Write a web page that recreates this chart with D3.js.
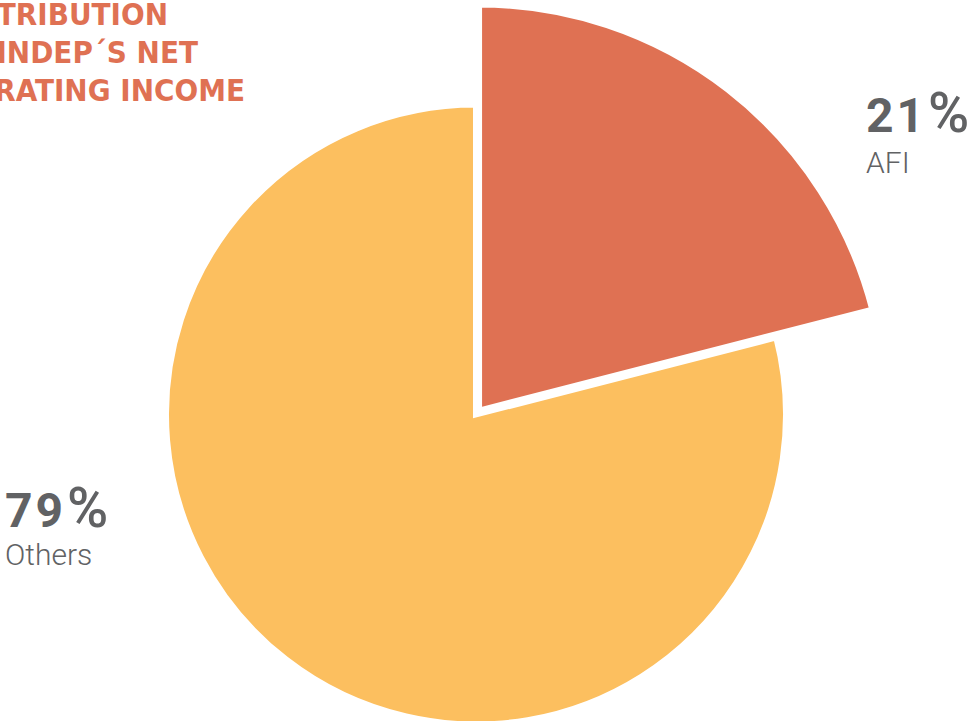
<!DOCTYPE html>
<html>
<head>
<meta charset="utf-8">
<script src="https://cdn.jsdelivr.net/npm/d3@7"></script>
<style>
  html, body { margin: 0; padding: 0; background: #fff; overflow: hidden; }
  svg { display: block; }
</style>
</head>
<body>
<svg id="chart" width="979" height="721"></svg>
<script>
// Distribution of INDEP's net operating income
const categories = ["AFI", "Others"];
const shares = [21, 79];
const titleLines = ["DISTRIBUTION", "OF INDEP´S NET", "OPERATING INCOME"];

const colors = { AFI: "#df7153", Others: "#fcbf5f" };

const svg = d3.select("#chart");
const cx = 476, cy = 414.5;

const data = categories.map((c, i) => ({ name: c, value: shares[i] }));
const pie = d3.pie().sort(null).value(d => d.value);
const arcs = pie(data);

const arcOthers = d3.arc().innerRadius(0).outerRadius(310);
const arcAFI = d3.arc().innerRadius(0).outerRadius(406);

const g = svg.append("g").attr("transform", `translate(${cx},${cy})`);

// Others slice first, then the pulled-out AFI slice on top
const order = [arcs[1], arcs[0]];
g.selectAll("path.slice")
  .data(order)
  .join("path")
  .attr("class", "slice")
  .attr("d", d => d.data.name === "AFI" ? arcAFI(d) : arcOthers(d))
  .attr("transform", d => {
    if (d.data.name !== "AFI") return null;
    const mid = (d.startAngle + d.endAngle) / 2;
    const off = 5;
    return `translate(${off * Math.sin(mid)},${-off * Math.cos(mid)})`;
  })
  .attr("fill", d => colors[d.data.name])
  .attr("stroke", "#fff")
  .attr("stroke-width", 6)
  .attr("stroke-linejoin", "miter");

// Title block, right-aligned per line and running off the left edge
const titleEnds = [168, 198, 245];
svg.append("g")
  .selectAll("text")
  .data(titleLines)
  .join("text")
  .attr("x", (d, i) => titleEnds[i])
  .attr("y", (d, i) => 25 + i * 38)
  .attr("text-anchor", "end")
  .attr("fill", "#df7153")
  .attr("font-family", "'DejaVu Sans Condensed', 'DejaVu Sans', sans-serif")
  .attr("font-stretch", "condensed")
  .attr("font-weight", 700)
  .attr("font-size", 31)
  .text(d => d);

// Value labels
const labelPos = { AFI: [866, 132, 173], Others: [5, 527, 565] };
data.forEach(d => {
  const [x, yPct, yName] = labelPos[d.name];
  const t = svg.append("text")
    .attr("x", x).attr("y", yPct)
    .attr("fill", "#616264")
    .attr("font-family", "Roboto, sans-serif")
    .attr("font-weight", 700)
    .attr("font-size", 48)
    .attr("letter-spacing", 3);
  t.append("tspan").text(d.value);
  t.append("tspan")
    .attr("dx", 1)
    .attr("font-weight", 500)
    .attr("font-size", 56)
    .text("%");
  svg.append("text")
    .attr("x", x).attr("y", yName)
    .attr("fill", "#616264")
    .attr("font-family", "Roboto, sans-serif")
    .attr("font-weight", 300)
    .attr("font-size", 30)
    .text(d.name);
});
</script>
</body>
</html>
